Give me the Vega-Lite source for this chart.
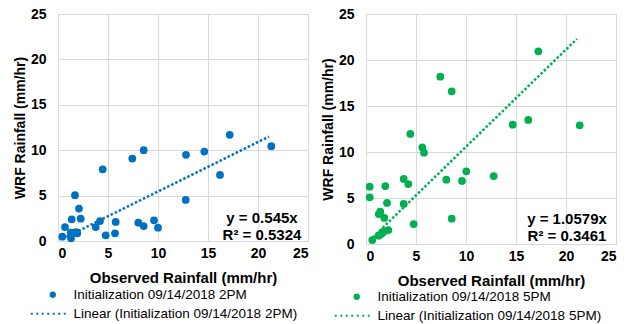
{
  "$schema": "https://vega.github.io/schema/vega-lite/v6.json",
  "background": "white",
  "padding": {"left": 12, "top": 6, "right": 0, "bottom": 0},
  "spacing": 11,
  "config": {
    "font": "Liberation Sans",
    "view": {"stroke": "#8c8c8c", "strokeWidth": 1},
    "axis": {
      "labelFont": "Liberation Sans", "labelFontSize": 14, "labelFontWeight": "bold", "labelColor": "#000",
      "titleFont": "Liberation Sans", "titleFontWeight": "bold", "titleColor": "#000",
      "grid": true, "gridColor": "#d9d9d9", "domain": false, "ticks": false
    },
    "axisX": {"labelPadding": 5, "titlePadding": 10, "titleFontSize": 15},
    "axisY": {"labelPadding": 12, "titlePadding": 3, "titleFontSize": 14},
    "legend": {"labelFont": "Liberation Sans"},
    "text": {"font": "Liberation Sans"}
  },
  "datasets": {
    "left_pts": [
      {"obs": 0.43, "wrf": 0.48, "series": "Initialization 09/14/2018 2PM"},
      {"obs": 0.7, "wrf": 1.54, "series": "Initialization 09/14/2018 2PM"},
      {"obs": 1.37, "wrf": 2.39, "series": "Initialization 09/14/2018 2PM"},
      {"obs": 1.3, "wrf": 0.3, "series": "Initialization 09/14/2018 2PM"},
      {"obs": 1.27, "wrf": 0.92, "series": "Initialization 09/14/2018 2PM"},
      {"obs": 1.57, "wrf": 0.92, "series": "Initialization 09/14/2018 2PM"},
      {"obs": 1.7, "wrf": 5.04, "series": "Initialization 09/14/2018 2PM"},
      {"obs": 1.93, "wrf": 0.85, "series": "Initialization 09/14/2018 2PM"},
      {"obs": 2.1, "wrf": 3.57, "series": "Initialization 09/14/2018 2PM"},
      {"obs": 2.27, "wrf": 2.46, "series": "Initialization 09/14/2018 2PM"},
      {"obs": 1.83, "wrf": 0.99, "series": "Initialization 09/14/2018 2PM"},
      {"obs": 3.77, "wrf": 1.54, "series": "Initialization 09/14/2018 2PM"},
      {"obs": 4.2, "wrf": 2.2, "series": "Initialization 09/14/2018 2PM"},
      {"obs": 4.47, "wrf": 7.9, "series": "Initialization 09/14/2018 2PM"},
      {"obs": 4.77, "wrf": 0.63, "series": "Initialization 09/14/2018 2PM"},
      {"obs": 5.7, "wrf": 0.85, "series": "Initialization 09/14/2018 2PM"},
      {"obs": 5.77, "wrf": 2.1, "series": "Initialization 09/14/2018 2PM"},
      {"obs": 7.43, "wrf": 9.08, "series": "Initialization 09/14/2018 2PM"},
      {"obs": 8.03, "wrf": 2.02, "series": "Initialization 09/14/2018 2PM"},
      {"obs": 8.57, "wrf": 10.0, "series": "Initialization 09/14/2018 2PM"},
      {"obs": 8.57, "wrf": 1.65, "series": "Initialization 09/14/2018 2PM"},
      {"obs": 9.6, "wrf": 2.28, "series": "Initialization 09/14/2018 2PM"},
      {"obs": 10.0, "wrf": 1.47, "series": "Initialization 09/14/2018 2PM"},
      {"obs": 12.77, "wrf": 4.52, "series": "Initialization 09/14/2018 2PM"},
      {"obs": 12.8, "wrf": 9.49, "series": "Initialization 09/14/2018 2PM"},
      {"obs": 14.63, "wrf": 9.85, "series": "Initialization 09/14/2018 2PM"},
      {"obs": 16.2, "wrf": 7.28, "series": "Initialization 09/14/2018 2PM"},
      {"obs": 17.17, "wrf": 11.69, "series": "Initialization 09/14/2018 2PM"},
      {"obs": 21.33, "wrf": 10.44, "series": "Initialization 09/14/2018 2PM"}
    ],
    "left_trend": [
      {"obs": 0.43, "fit": 0.23, "series": "Linear (Initialization 09/14/2018 2PM)"},
      {"obs": 21.1, "fit": 11.5, "series": "Linear (Initialization 09/14/2018 2PM)"}
    ],
    "right_pts": [
      {"obs": 0.37, "wrf": 6.23, "series": "Initialization 09/14/2018 5PM"},
      {"obs": 0.37, "wrf": 5.07, "series": "Initialization 09/14/2018 5PM"},
      {"obs": 0.63, "wrf": 0.43, "series": "Initialization 09/14/2018 5PM"},
      {"obs": 1.27, "wrf": 3.26, "series": "Initialization 09/14/2018 5PM"},
      {"obs": 1.43, "wrf": 3.51, "series": "Initialization 09/14/2018 5PM"},
      {"obs": 1.27, "wrf": 0.91, "series": "Initialization 09/14/2018 5PM"},
      {"obs": 1.53, "wrf": 1.09, "series": "Initialization 09/14/2018 5PM"},
      {"obs": 1.77, "wrf": 1.34, "series": "Initialization 09/14/2018 5PM"},
      {"obs": 1.83, "wrf": 2.83, "series": "Initialization 09/14/2018 5PM"},
      {"obs": 1.93, "wrf": 6.3, "series": "Initialization 09/14/2018 5PM"},
      {"obs": 2.1, "wrf": 4.46, "series": "Initialization 09/14/2018 5PM"},
      {"obs": 2.23, "wrf": 1.52, "series": "Initialization 09/14/2018 5PM"},
      {"obs": 3.77, "wrf": 7.07, "series": "Initialization 09/14/2018 5PM"},
      {"obs": 3.77, "wrf": 4.35, "series": "Initialization 09/14/2018 5PM"},
      {"obs": 4.23, "wrf": 6.52, "series": "Initialization 09/14/2018 5PM"},
      {"obs": 4.43, "wrf": 11.96, "series": "Initialization 09/14/2018 5PM"},
      {"obs": 4.77, "wrf": 2.17, "series": "Initialization 09/14/2018 5PM"},
      {"obs": 5.63, "wrf": 10.51, "series": "Initialization 09/14/2018 5PM"},
      {"obs": 5.8, "wrf": 9.93, "series": "Initialization 09/14/2018 5PM"},
      {"obs": 7.43, "wrf": 18.19, "series": "Initialization 09/14/2018 5PM"},
      {"obs": 8.03, "wrf": 6.99, "series": "Initialization 09/14/2018 5PM"},
      {"obs": 8.57, "wrf": 16.59, "series": "Initialization 09/14/2018 5PM"},
      {"obs": 8.57, "wrf": 2.75, "series": "Initialization 09/14/2018 5PM"},
      {"obs": 9.6, "wrf": 6.85, "series": "Initialization 09/14/2018 5PM"},
      {"obs": 10.03, "wrf": 7.9, "series": "Initialization 09/14/2018 5PM"},
      {"obs": 12.77, "wrf": 7.39, "series": "Initialization 09/14/2018 5PM"},
      {"obs": 14.67, "wrf": 12.97, "series": "Initialization 09/14/2018 5PM"},
      {"obs": 16.23, "wrf": 13.48, "series": "Initialization 09/14/2018 5PM"},
      {"obs": 17.23, "wrf": 20.94, "series": "Initialization 09/14/2018 5PM"},
      {"obs": 21.37, "wrf": 12.9, "series": "Initialization 09/14/2018 5PM"}
    ],
    "right_trend": [
      {"obs": 0.37, "fit": 0.39, "series": "Linear (Initialization 09/14/2018 5PM)"},
      {"obs": 21.1, "fit": 22.3, "series": "Linear (Initialization 09/14/2018 5PM)"}
    ]
  },
  "resolve": {
    "scale": {"color": "independent", "shape": "independent"},
    "legend": {"color": "independent", "shape": "independent"}
  },
  "hconcat": [
    {
      "width": 250,
      "height": 227,
      "layer": [
        {
          "data": {"name": "left_trend"},
          "mark": {"type": "line", "strokeDash": [2.5, 2], "strokeWidth": 2.5},
          "encoding": {
            "x": {"field": "obs", "type": "quantitative", "scale": {"domain": [0, 25], "nice": false}, "axis": {"values": [0, 5, 10, 15, 20, 25], "title": "Observed Rainfall (mm/hr)"}},
            "y": {"field": "fit", "type": "quantitative", "scale": {"domain": [0, 25], "nice": false}, "axis": {"values": [0, 5, 10, 15, 20, 25], "title": "WRF Rainfall (mm/hr)"}},
            "color": {"field": "series", "type": "nominal", "scale": {"domain": ["Initialization 09/14/2018 2PM", "Linear (Initialization 09/14/2018 2PM)"], "range": ["#0070C0", "#0070C0"]},
              "legend": {"orient": "none", "legendX": -12, "legendY": 274, "title": null, "direction": "vertical", "symbolSize": 40, "symbolStrokeWidth": 0, "labelFontSize": 13.5, "labelColor": "#000", "labelOffset": 14, "rowPadding": 4, "padding": 0, "labelLimit": 400}}
          }
        },
        {
          "data": {"name": "left_pts"},
          "mark": {"type": "point", "filled": true, "size": 60, "opacity": 1},
          "encoding": {
            "x": {"field": "obs", "type": "quantitative"},
            "y": {"field": "wrf", "type": "quantitative"},
            "color": {"field": "series", "type": "nominal"},
            "shape": {"field": "series", "type": "nominal", "scale": {"domain": ["Initialization 09/14/2018 2PM", "Linear (Initialization 09/14/2018 2PM)"], "range": ["circle", "M-6.95,-0.32h0.63v0.64h-0.63z M-5.22,-0.32h0.63v0.64h-0.63z M-3.48,-0.32h0.63v0.64h-0.63z M-1.74,-0.32h0.63v0.64h-0.63z M0,-0.32h0.63v0.64h-0.63z M1.74,-0.32h0.63v0.64h-0.63z M3.48,-0.32h0.63v0.64h-0.63z"]},
              "legend": {"orient": "none", "legendX": -12, "legendY": 274, "title": null, "direction": "vertical", "symbolSize": 40, "symbolStrokeWidth": 0, "labelFontSize": 13.5, "labelColor": "#000", "labelOffset": 14, "rowPadding": 4, "padding": 0, "labelLimit": 400}}
          }
        },
        {
          "data": {"values": [{}]},
          "mark": {"type": "text", "fontSize": 15, "fontWeight": "bold", "lineHeight": 17, "align": "center", "baseline": "middle", "color": "#000", "text": ["y = 0.545x", "R² = 0.5324"]},
          "encoding": {"x": {"datum": 20.4}, "y": {"datum": 2.48}}
        }
      ]
    },
    {
      "width": 250,
      "height": 230,
      "layer": [
        {
          "data": {"name": "right_trend"},
          "mark": {"type": "line", "strokeDash": [2.5, 2], "strokeWidth": 2.5},
          "encoding": {
            "x": {"field": "obs", "type": "quantitative", "scale": {"domain": [0, 25], "nice": false}, "axis": {"values": [0, 5, 10, 15, 20, 25], "title": "Observed Rainfall (mm/hr)"}},
            "y": {"field": "fit", "type": "quantitative", "scale": {"domain": [0, 25], "nice": false}, "axis": {"values": [0, 5, 10, 15, 20, 25], "title": "WRF Rainfall (mm/hr)"}},
            "color": {"field": "series", "type": "nominal", "scale": {"domain": ["Initialization 09/14/2018 5PM", "Linear (Initialization 09/14/2018 5PM)"], "range": ["#00B050", "#00B050"]},
              "legend": {"orient": "none", "legendX": -16, "legendY": 276, "title": null, "direction": "vertical", "symbolSize": 40, "symbolStrokeWidth": 0, "labelFontSize": 13.5, "labelColor": "#000", "labelOffset": 14, "rowPadding": 4, "padding": 0, "labelLimit": 400}}
          }
        },
        {
          "data": {"name": "right_pts"},
          "mark": {"type": "point", "filled": true, "size": 60, "opacity": 1},
          "encoding": {
            "x": {"field": "obs", "type": "quantitative"},
            "y": {"field": "wrf", "type": "quantitative"},
            "color": {"field": "series", "type": "nominal"},
            "shape": {"field": "series", "type": "nominal", "scale": {"domain": ["Initialization 09/14/2018 5PM", "Linear (Initialization 09/14/2018 5PM)"], "range": ["circle", "M-6.95,-0.32h0.63v0.64h-0.63z M-5.22,-0.32h0.63v0.64h-0.63z M-3.48,-0.32h0.63v0.64h-0.63z M-1.74,-0.32h0.63v0.64h-0.63z M0,-0.32h0.63v0.64h-0.63z M1.74,-0.32h0.63v0.64h-0.63z M3.48,-0.32h0.63v0.64h-0.63z"]},
              "legend": {"orient": "none", "legendX": -16, "legendY": 276, "title": null, "direction": "vertical", "symbolSize": 40, "symbolStrokeWidth": 0, "labelFontSize": 13.5, "labelColor": "#000", "labelOffset": 14, "rowPadding": 4, "padding": 0, "labelLimit": 400}}
          }
        },
        {
          "data": {"values": [{}]},
          "mark": {"type": "text", "fontSize": 15, "fontWeight": "bold", "lineHeight": 17, "align": "center", "baseline": "middle", "color": "#000", "text": ["y = 1.0579x", "R² = 0.3461"]},
          "encoding": {"x": {"datum": 20.1}, "y": {"datum": 2.72}}
        }
      ]
    }
  ]
}
